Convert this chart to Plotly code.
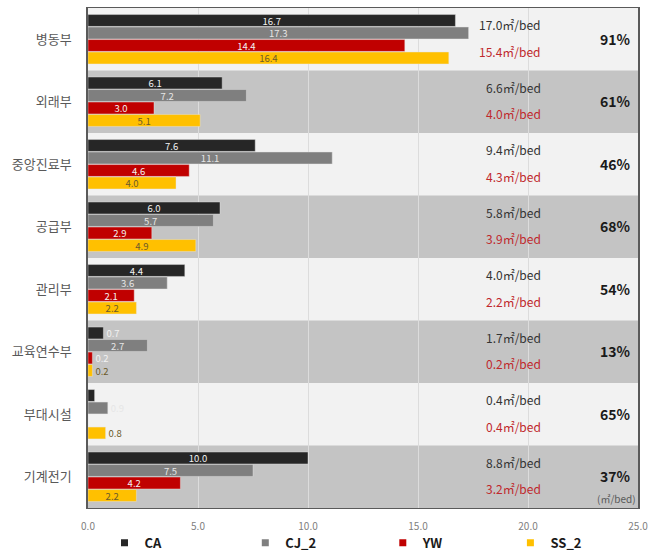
import plotly.graph_objects as go

# Floor area per bed by department (㎡/bed)
departments = ["병동부", "외래부", "중앙진료부", "공급부", "관리부", "교육연수부", "부대시설", "기계전기"]
series_names = ["CA", "CJ_2", "YW", "SS_2"]
ca = [16.7, 6.1, 7.6, 6.0, 4.4, 0.7, 0.3, 10.0]
cj_2 = [17.3, 7.2, 11.1, 5.7, 3.6, 2.7, 0.9, 7.5]
yw = [14.4, 3.0, 4.6, 2.9, 2.1, 0.2, 0.0, 4.2]
ss_2 = [16.4, 5.1, 4.0, 4.9, 2.2, 0.2, 0.8, 2.2]

# Summary values shown at the right of each row
avg_upper = [17.0, 6.6, 9.4, 5.8, 4.0, 1.7, 0.4, 8.8]
avg_lower = [15.4, 4.0, 4.3, 3.9, 2.2, 0.2, 0.4, 3.2]
ratio_pct = [91, 61, 46, 68, 54, 13, 65, 37]

x_ticks = [0, 5, 10, 15, 20, 25]

colors = ["#262626", "#7f7f7f", "#c00000", "#ffc000"]
label_colors = ["#f2f2f2", "#e6e6e6", "#f2f2f2", "#6b5a2a"]
series_values = [ca, cj_2, yw, ss_2]

FONT = "Noto Sans CJK KR"

fig = go.Figure()

for name, vals, col, lcol in zip(series_names, series_values, colors, label_colors):
    fig.add_trace(go.Bar(
        y=departments,
        x=vals,
        orientation="h",
        name=name,
        marker=dict(color=col, line=dict(color="rgba(230,230,230,0.7)", width=0.6)),
        text=[f"{v:.1f}" for v in vals],
        textposition=["inside" if v >= 1.0 else "outside" for v in vals],
        textangle=0,
        insidetextanchor="middle",
        constraintext="none",
        textfont=dict(family=FONT, size=9.5, color=lcol),
        cliponaxis=False,
        showlegend=False,
    ))

# One small legend per series, spread across the bottom
legend_ids = ["legend", "legend2", "legend3", "legend4"]
legend_x = [0.030, 0.286, 0.536, 0.768]
for name, col, lid in zip(series_names, colors, legend_ids):
    fig.add_trace(go.Scatter(
        x=[None], y=[None], mode="markers", name=name,
        marker=dict(symbol="square", size=7, color=col),
        showlegend=True, legend=lid,
    ))

# Alternating row bands
shapes = []
for i in range(len(departments)):
    shapes.append(dict(
        type="rect", xref="paper", yref="y",
        x0=0, x1=1, y0=i - 0.5, y1=i + 0.5,
        fillcolor="#c4c4c4" if i % 2 == 1 else "#f2f2f2",
        line=dict(width=0), layer="below",
    ))

annotations = []
for i in range(len(departments)):
    annotations.append(dict(
        x=20.7, y=i - 0.23, xref="x", yref="y",
        text=f"{avg_upper[i]:.1f}㎡/bed", showarrow=False, xanchor="right",
        font=dict(family=FONT, size=12, color="#333333"),
    ))
    annotations.append(dict(
        x=20.7, y=i + 0.19, xref="x", yref="y",
        text=f"{avg_lower[i]:.1f}㎡/bed", showarrow=False, xanchor="right",
        font=dict(family=FONT, size=12, color="#c0282d"),
    ))
    annotations.append(dict(
        x=24.75, y=i - 0.01, xref="x", yref="y",
        text=f"<b>{ratio_pct[i]}%</b>", showarrow=False, xanchor="right",
        font=dict(family=FONT, size=14, color="#1a1a1a"),
    ))
annotations.append(dict(
    x=1.0, y=0.0, xref="paper", yref="paper", xanchor="right", yanchor="bottom",
    text="(㎡/bed)", showarrow=False,
    font=dict(family=FONT, size=10, color="#595959"),
))

legend_style = dict(
    orientation="h", xanchor="left",
    yref="container", y=0.022, yanchor="middle",
    font=dict(family=FONT, size=13, color="#1a1a1a", weight="bold"),
    bgcolor="rgba(0,0,0,0)",
)

fig.update_layout(
    width=662, height=555,
    margin=dict(l=88, r=24, t=8, b=47, autoexpand=False),
    paper_bgcolor="white",
    plot_bgcolor="#f2f2f2",
    barmode="group",
    bargap=0.2,
    bargroupgap=0.05,
    shapes=shapes,
    annotations=annotations,
    font=dict(family=FONT),
    xaxis=dict(
        range=[0, 25], tickvals=x_ticks, tickformat=".1f",
        showgrid=True, gridcolor="#dcdcdc", gridwidth=1,
        zeroline=False, showline=True, linecolor="#5a5a5a", linewidth=1, mirror=True,
        tickfont=dict(family=FONT, size=10, color="#808080"),
        ticks="", ticklabelstandoff=9,
    ),
    yaxis=dict(
        categoryorder="array", categoryarray=departments, autorange="reversed",
        showgrid=False, showline=True, linecolor="#5a5a5a", linewidth=1.5, mirror=True,
        tickfont=dict(family=FONT, size=13, color="#595959"),
        ticks="", ticklabelstandoff=12,
    ),
)
for lid, lx in zip(legend_ids, legend_x):
    fig.update_layout({lid: dict(legend_style, x=lx)})

fig.write_html("out.html")
